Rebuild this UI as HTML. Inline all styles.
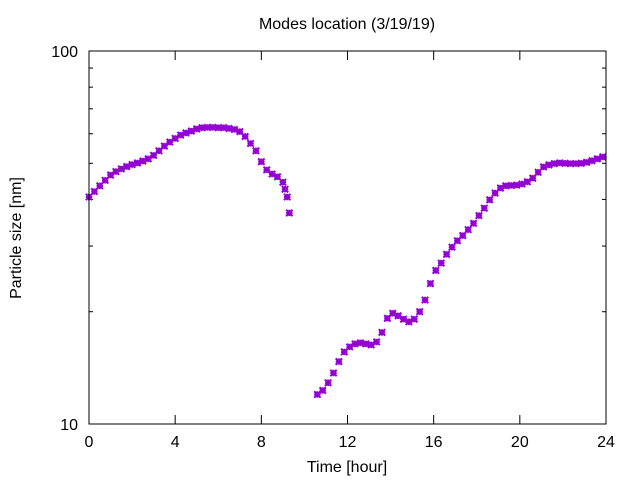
<!DOCTYPE html>
<html><head><meta charset="utf-8"><style>
body{margin:0;background:#fff}
svg text{font-family:"Liberation Sans",sans-serif;font-size:16px;fill:#000}
</style></head><body>
<svg id="chart" width="640" height="480" xmlns="http://www.w3.org/2000/svg">
<rect width="640" height="480" fill="#fff"/>
<text x="347" y="29" text-anchor="middle">Modes location (3/19/19)</text>
<text x="347" y="472" text-anchor="middle">Time [hour]</text>
<text transform="translate(21,238) rotate(-90)" text-anchor="middle">Particle size [nm]</text>
<g id="axes"></g>
<g id="series"></g>
<rect x="89" y="51" width="517" height="373" fill="none" stroke="#000" stroke-width="1"/>
</svg>
<script>
const xTicks=[0,4,8,12,16,20,24];
const yMajor=[10,100];
const yMinor=[20,30,40,50,60,70,80,90];
const times1=[0,0.25,0.5,0.75,1,1.25,1.5,1.75,2,2.25,2.5,2.75,3,3.25,3.5,3.75,4,4.25,4.5,4.75,5,5.25,5.5,5.75,6,6.25,6.5,6.75,7,7.25,7.5,7.75,8,8.25,8.5,8.75,9,9.1,9.2,9.3];
const sizes1=[40.6,42.0,43.5,45.0,46.5,47.5,48.3,49.0,49.6,50.1,50.7,51.4,52.5,54.0,55.6,57.0,58.3,59.5,60.3,61.0,61.8,62.3,62.4,62.4,62.3,62.3,62.0,61.6,60.8,59.0,56.5,54.0,50.5,48.0,46.8,46.0,44.5,42.6,40.6,36.8];
const times2=[10.6,10.85,11.1,11.35,11.6,11.85,12.1,12.35,12.6,12.85,13.1,13.35,13.6,13.85,14.1,14.35,14.6,14.85,15.1,15.35,15.6,15.85,16.1,16.35,16.6,16.85,17.1,17.35,17.6,17.85,18.1,18.35,18.6,18.85,19.1,19.35,19.6,19.85,20.1,20.35,20.6,20.85,21.1,21.35,21.6,21.85,22.1,22.35,22.6,22.85,23.1,23.35,23.6,23.85];
const sizes2=[12.0,12.3,12.9,13.7,14.7,15.6,16.1,16.4,16.5,16.4,16.3,16.6,17.6,19.2,19.8,19.5,19.1,18.8,19.1,20.0,21.5,23.8,25.8,27.0,28.5,29.8,31.0,32.0,33.2,34.5,36.2,37.9,39.9,41.6,42.9,43.5,43.6,43.7,44.0,44.6,45.6,47.3,48.9,49.5,49.9,50.1,50.0,49.9,49.9,50.0,50.3,50.8,51.4,52.0];

const NS="http://www.w3.org/2000/svg";
const X0=89,X1=606,Y0=424,Y1=51;
function xs(t){return X0+(t/24)*(X1-X0);}
function ys(v){return Y0-Math.log10(v/10)*(Y0-Y1);}
const axes=document.getElementById('axes');
function mk(tag,attrs,parent){const e=document.createElementNS(NS,tag);for(const k in attrs)e.setAttribute(k,attrs[k]);parent.appendChild(e);return e;}
xTicks.forEach(t=>{
  const x=xs(t);
  const b=mk('line',{x1:x,y1:Y0,x2:x,y2:Y0-9,stroke:'#000'},axes);
  
  
  const tp=mk('line',{x1:x,y1:Y1,x2:x,y2:Y1+9,stroke:'#000'},axes);
  
  
  const l=mk('text',{x:x,y:447,'text-anchor':'middle'},axes);
  l.textContent=t;
  
  
});
yMajor.forEach(v=>{
  const y=ys(v);
  const a=mk('line',{x1:X0,y1:y,x2:X0+9,y2:y,stroke:'#000'},axes);
  
  
  const r=mk('line',{x1:X1,y1:y,x2:X1-9,y2:y,stroke:'#000'},axes);
  
  
  const l=mk('text',{x:78,y:y+6,'text-anchor':'end'},axes);
  l.textContent=v;
  
  
});
yMinor.forEach(v=>{
  const y=ys(v);
  const a=mk('line',{x1:X0,y1:y,x2:X0+4,y2:y,stroke:'#000'},axes);
  
  
  const r=mk('line',{x1:X1,y1:y,x2:X1-4,y2:y,stroke:'#000'},axes);
  
  
});
const ser=document.getElementById('series');
function star(t,v){
  const x=xs(t),y=ys(v),s=3.2;
  const p=mk('path',{d:`M${x-s} ${y}H${x+s}M${x} ${y-s}V${y+s}M${x-s} ${y-s}L${x+s} ${y+s}M${x-s} ${y+s}L${x+s} ${y-s}`,stroke:'#9400d3','stroke-width':2,fill:'none'},ser);
  
  
}
times1.forEach((t,i)=>star(t,sizes1[i]));
times2.forEach((t,i)=>star(t,sizes2[i]));
</script>
</body></html>
